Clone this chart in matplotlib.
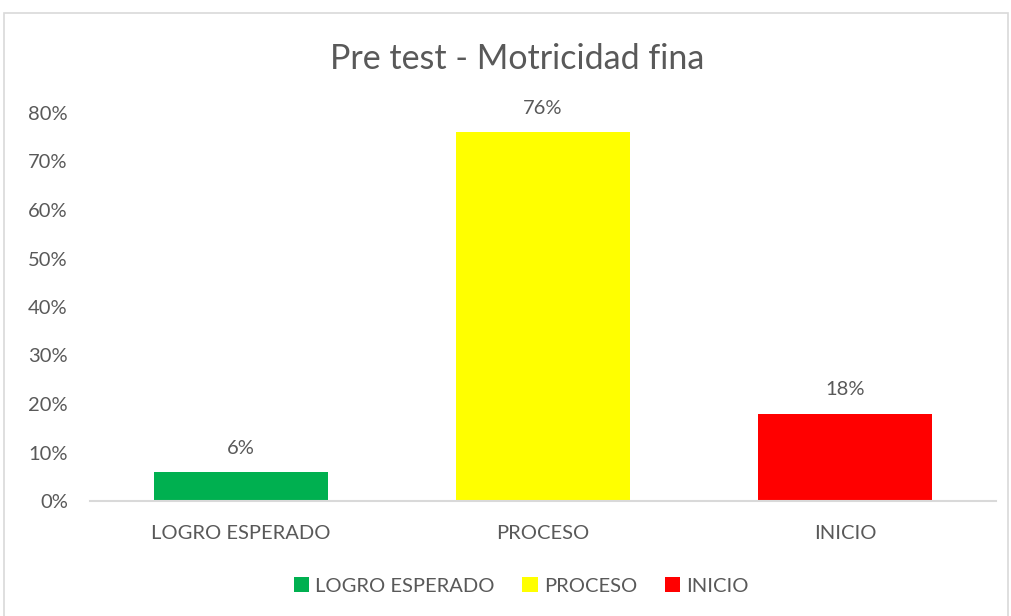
import matplotlib
matplotlib.use("Agg")
import matplotlib.pyplot as plt
from matplotlib.patches import Rectangle
from matplotlib.ticker import FuncFormatter

categories = ["LOGRO ESPERADO", "PROCESO", "INICIO"]
values = [0.06, 0.76, 0.18]
labels = ["6%", "76%", "18%"]
colors = ["#00B050", "#FFFF00", "#FF0000"]
title = "Pre test - Motricidad fina"

plt.rcParams['font.family'] = ['Lato', 'DejaVu Sans']
txt = "#595959"
fs = 14.5

fig = plt.figure(figsize=(10.12, 6.16), dpi=100)
fig.patches.append(Rectangle((4/1012, -0.01), 1004/1012, 1 - 13/616 + 0.01,
                             transform=fig.transFigure, fill=False,
                             edgecolor="#D9D9D9", linewidth=1.2))
ax = fig.add_axes([90/1012, 1 - 501/616, 906/1012, (501 - 113)/616])

x = list(range(len(categories)))
bars = ax.bar(x, values, width=0.573, color=colors, label=categories, zorder=2)
ax.set_xlim(-0.5, 2.5)
ax.set_ylim(0, 0.8)
ax.set_yticks([i / 10 for i in range(9)])
ax.yaxis.set_major_formatter(FuncFormatter(lambda v, p: f"{v*100:.0f}%"))
ax.set_xticks(x)
ax.set_xticklabels(categories)
for s in ["top", "right", "left"]:
    ax.spines[s].set_visible(False)
ax.spines["bottom"].set_color("#D9D9D9")
ax.spines["bottom"].set_linewidth(1.5)
ax.tick_params(axis="both", length=0, colors=txt, labelsize=fs)
ax.tick_params(axis="x", pad=17)
ax.tick_params(axis="y", pad=16)

for b, lab in zip(bars, labels):
    ax.annotate(lab, (b.get_x() + b.get_width() / 2, b.get_height()),
                xytext=(0, 11), textcoords="offset points", ha="center",
                va="bottom", fontsize=fs, color=txt)

fig.text(517/1012, 1 - 59/616, title, ha="center", va="center", fontsize=24.5, color=txt)

leg = fig.legend(handles=bars, labels=categories, loc="center",
                 bbox_to_anchor=(0.515, 1 - 586/616), ncol=3, frameon=False,
                 fontsize=fs, handlelength=0.75, handleheight=0.75,
                 handletextpad=0.3, columnspacing=1.4, labelcolor=txt)

fig.savefig("out.png", dpi=100)
